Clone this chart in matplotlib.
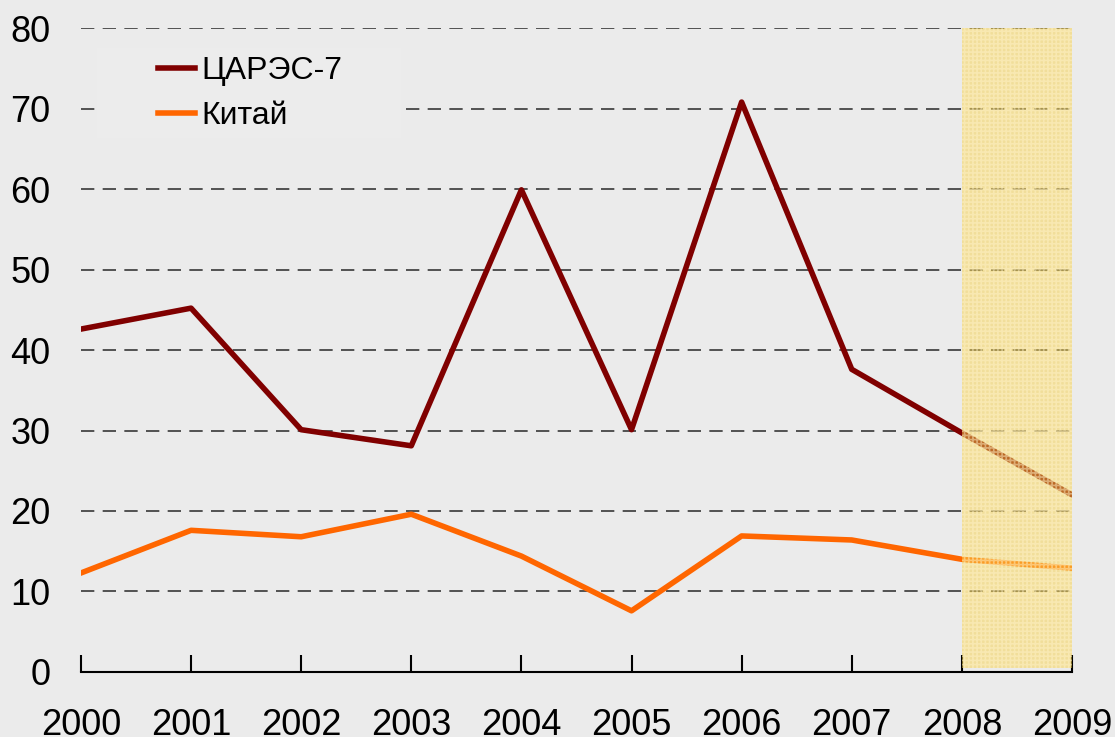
import numpy as np
import matplotlib.pyplot as plt
from matplotlib.patches import Rectangle

plt.rcParams['font.family'] = ['Liberation Sans', 'DejaVu Sans']

years = [2000, 2001, 2002, 2003, 2004, 2005, 2006, 2007, 2008, 2009]
carec = [42.6, 45.2, 30.1, 28.1, 59.9, 30.1, 70.8, 37.6, 29.7, 22.0]
china = [12.3, 17.6, 16.8, 19.6, 14.4, 7.6, 16.9, 16.4, 14.0, 12.9]
labels = ['ЦАРЭС-7', 'Китай']
forecast = [2008, 2009]

bg = '#EBEBEB'
fig = plt.figure(figsize=(11.15, 7.37), dpi=100, facecolor=bg)
ax = fig.add_axes([0.0726, 0.0882, 0.8888, 0.8738], facecolor=bg)

ax.plot(years, carec, color='#800000', lw=4, label=labels[0], zorder=3)
ax.plot(years, china, color='#FF6600', lw=4, label=labels[1], zorder=3)

# forecast period shading
plt.rcParams['hatch.linewidth'] = 1.2
ax.fill_between(forecast, 0.5, 80, facecolor='#F7D24A', alpha=0.5,
                edgecolor='#FFF2C8', hatch='++++', lw=0, zorder=4)

ax.set_xlim(2000, 2009)
ax.set_ylim(0, 80)
ax.set_xticks(years)
ax.set_yticks(range(0, 81, 10))

for y in range(10, 81, 10):
    ax.axhline(y, color='#383838', lw=1.2, ls=(0, (8, 5)), zorder=1)

# box behind the legend hides part of the grid
ax.add_patch(Rectangle((2000.145, 66.3), 2.76, 11.2, facecolor='#ECECEC',
                       edgecolor='none', zorder=2))

for s in ['top', 'right', 'left']:
    ax.spines[s].set_visible(False)
ax.spines['bottom'].set_linewidth(1.5)
ax.spines['bottom'].set_zorder(5)

ax.tick_params(axis='x', direction='in', length=12, width=1.5, pad=26, labelsize=26)
ax.tick_params(axis='y', length=0, pad=22, labelsize=26)

leg = ax.legend(loc='upper left', bbox_to_anchor=(0.0777, 0.956), fontsize=23,
                frameon=False, handlelength=1.16, handletextpad=0.2,
                labelspacing=0.45, borderpad=0, borderaxespad=0)
leg.set_zorder(6)
for h in leg.get_lines():
    h.set_linewidth(4)

fig.savefig('out.png', dpi=100, facecolor=bg)
